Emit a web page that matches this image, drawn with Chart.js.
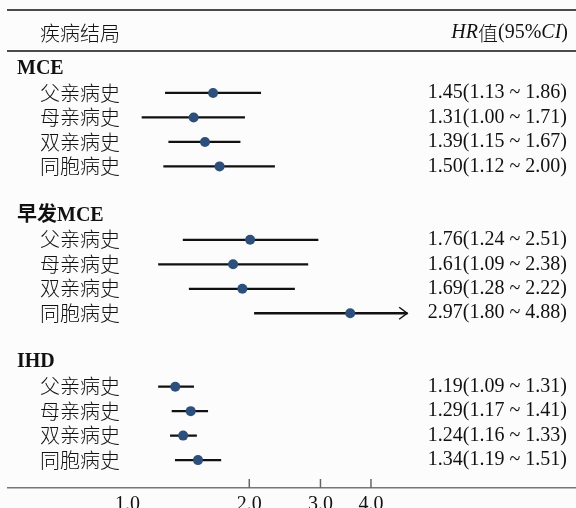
<!DOCTYPE html>
<html>
<head>
<meta charset="utf-8">
<script src="https://cdn.jsdelivr.net/npm/chart.js@4.4.1/dist/chart.umd.min.js"></script>
<style>
  html, body { margin: 0; padding: 0; background: #fcfcfc; }
  #wrap { width: 576px; height: 508px; position: relative; }
</style>
</head>
<body>
<div id="wrap"><canvas id="forest"></canvas></div>
<script>
// ── DATA ───────────────────────────────────────
const groups    = ['MCE', '早发MCE', 'IHD'];
const subLabels = ['父亲病史', '母亲病史', '双亲病史', '同胞病史'];
const hrVals  = [1.45, 1.31, 1.39, 1.50,  1.76, 1.61, 1.69, 2.97,  1.19, 1.29, 1.24, 1.34];
const ciLow   = [1.13, 1.00, 1.15, 1.12,  1.24, 1.09, 1.28, 1.80,  1.09, 1.17, 1.16, 1.19];
const ciHigh  = [1.86, 1.71, 1.67, 2.00,  2.51, 2.38, 2.22, 4.88,  1.31, 1.41, 1.33, 1.51];
const tickValues = [1, 2, 3, 4];
const tickLabels = ['1.0', '2.0', '3.0', '4.0'];
const tickMarks  = [2, 3, 4];
const axisCap = 4.0; // CI past this gets cut and an arrow is drawn

const SERIF = '"Liberation Serif", "Noto Sans CJK SC", serif';
const CJK   = '"Noto Sans CJK SC", sans-serif';
const INK   = '#111';

// each group: header row + 4 rows + blank row
const rowOf = (g, k) => g * 6 + 1 + k;

const barData = [], pointData = [];
groups.forEach((g, gi) => {
  subLabels.forEach((s, k) => {
    const i = gi * 4 + k;
    barData.push({ y: rowOf(gi, k), x: [ciLow[i], Math.min(ciHigh[i], axisCap)] });
    pointData.push({ y: rowOf(gi, k), x: hrVals[i] });
  });
});

// ── DECOR (rules, texts, arrow, ticks) ─────────
const forestDecor = {
  id: 'forestDecor',
  beforeDraw(chart) {
    const { ctx, width, height } = chart;
    ctx.save();
    ctx.fillStyle = '#fcfcfc';
    ctx.fillRect(0, 0, width, height);
    ctx.restore();
  },
  afterDatasetsDraw(chart) {
    const { ctx, scales: { x, x2, y } } = chart;
    ctx.save();
    ctx.strokeStyle = INK;
    ctx.lineWidth = 1.3;
    [10, 51].forEach(yy => {
      ctx.beginPath(); ctx.moveTo(7, yy); ctx.lineTo(576, yy); ctx.stroke();
    });

    ctx.fillStyle = INK;
    ctx.textBaseline = 'middle';
    ctx.textAlign = 'left';
    ctx.font = `300 20px ${CJK}`;
    ctx.fillText('疾病结局', 40, 33);

    // HR值(95%CI) right aligned, italic bits
    const runs = [
      ['HR', `italic 20px ${SERIF}`], ['值', `300 20px ${CJK}`],
      ['(95%', `20px ${SERIF}`], ['CI', `italic 20px ${SERIF}`], [')', `20px ${SERIF}`]
    ];
    let total = 0;
    runs.forEach(r => { ctx.font = r[1]; total += ctx.measureText(r[0]).width; });
    let cx = 568 - total;
    runs.forEach(r => { ctx.font = r[1]; ctx.fillText(r[0], cx, 33); cx += ctx.measureText(r[0]).width; });

    groups.forEach((g, gi) => {
      ctx.textAlign = 'left';
      ctx.font = `bold 20px ${SERIF}`;
      ctx.fillText(g, 17, y.getPixelForValue(gi * 6));
      subLabels.forEach((s, k) => {
        const i = gi * 4 + k;
        const yr = y.getPixelForValue(rowOf(gi, k));
        ctx.textAlign = 'left';
        ctx.font = `300 20px ${CJK}`;
        ctx.fillText(s, 40, yr);
        ctx.textAlign = 'right';
        ctx.font = `20px ${SERIF}`;
        ctx.fillText(`${hrVals[i].toFixed(2)}(${ciLow[i].toFixed(2)} ~ ${ciHigh[i].toFixed(2)})`, 567, yr);
        if (ciHigh[i] > axisCap) {
          const ax = x.getPixelForValue(axisCap);
          ctx.lineWidth = 1.5;
          ctx.beginPath();
          ctx.moveTo(ax - 8, yr - 6); ctx.lineTo(ax, yr); ctx.lineTo(ax - 8, yr + 6);
          ctx.stroke();
        }
      });
    });

    // tick marks point up from the axis line
    ctx.strokeStyle = '#666';
    ctx.lineWidth = 1.5;
    const base = x2.top;
    tickMarks.forEach(v => {
      const px = x2.getPixelForValue(v);
      ctx.beginPath(); ctx.moveTo(px, base); ctx.lineTo(px, base - 9); ctx.stroke();
    });
    ctx.restore();
  }
};

// ── CHART ──────────────────────────────────────
new Chart(document.getElementById('forest'), {
  type: 'bar',
  data: {
    datasets: [
      {
        type: 'scatter',
        data: pointData,
        xAxisID: 'x', yAxisID: 'y',
        order: 0,
        pointRadius: 5,
        pointBackgroundColor: '#2c4f7c',
        pointBorderWidth: 0
      },
      {
        type: 'bar',
        indexAxis: 'y',
        data: barData,
        xAxisID: 'x', yAxisID: 'y',
        order: 1,
        barThickness: 1.6,
        backgroundColor: INK,
        borderWidth: 0
      }
    ]
  },
  options: {
    responsive: true,
    maintainAspectRatio: false,
    animation: false,
    layout: { autoPadding: false, padding: { left: 8, right: 0, top: 10, bottom: 0 } },
    plugins: { legend: { display: false }, tooltip: { enabled: false } },
    scales: {
      x: { type: 'logarithmic', display: false, bounds: 'data', offset: false, min: 0.4963, max: 9.67 },
      x2: {
        type: 'logarithmic', axis: 'x', position: 'bottom', bounds: 'data', offset: false,
        min: 0.506, max: 12.86,
        afterBuildTicks: s => { s.ticks = tickValues.map(v => ({ value: v })); },
        afterFit: s => { s.height = 20; },
        grid: { display: true, drawOnChartArea: false, drawTicks: false },
        border: { display: true, color: '#777', width: 1.5 },
        ticks: {
          autoSkip: false, maxRotation: 0, padding: 5,
          color: INK, font: { family: SERIF, size: 20 },
          callback: (v, i) => tickLabels[i]
        }
      },
      y: { type: 'linear', display: false, reverse: true, bounds: 'data', offset: false, min: -2.39, max: 17.14 }
    }
  },
  plugins: [forestDecor]
});
</script>
</body>
</html>
